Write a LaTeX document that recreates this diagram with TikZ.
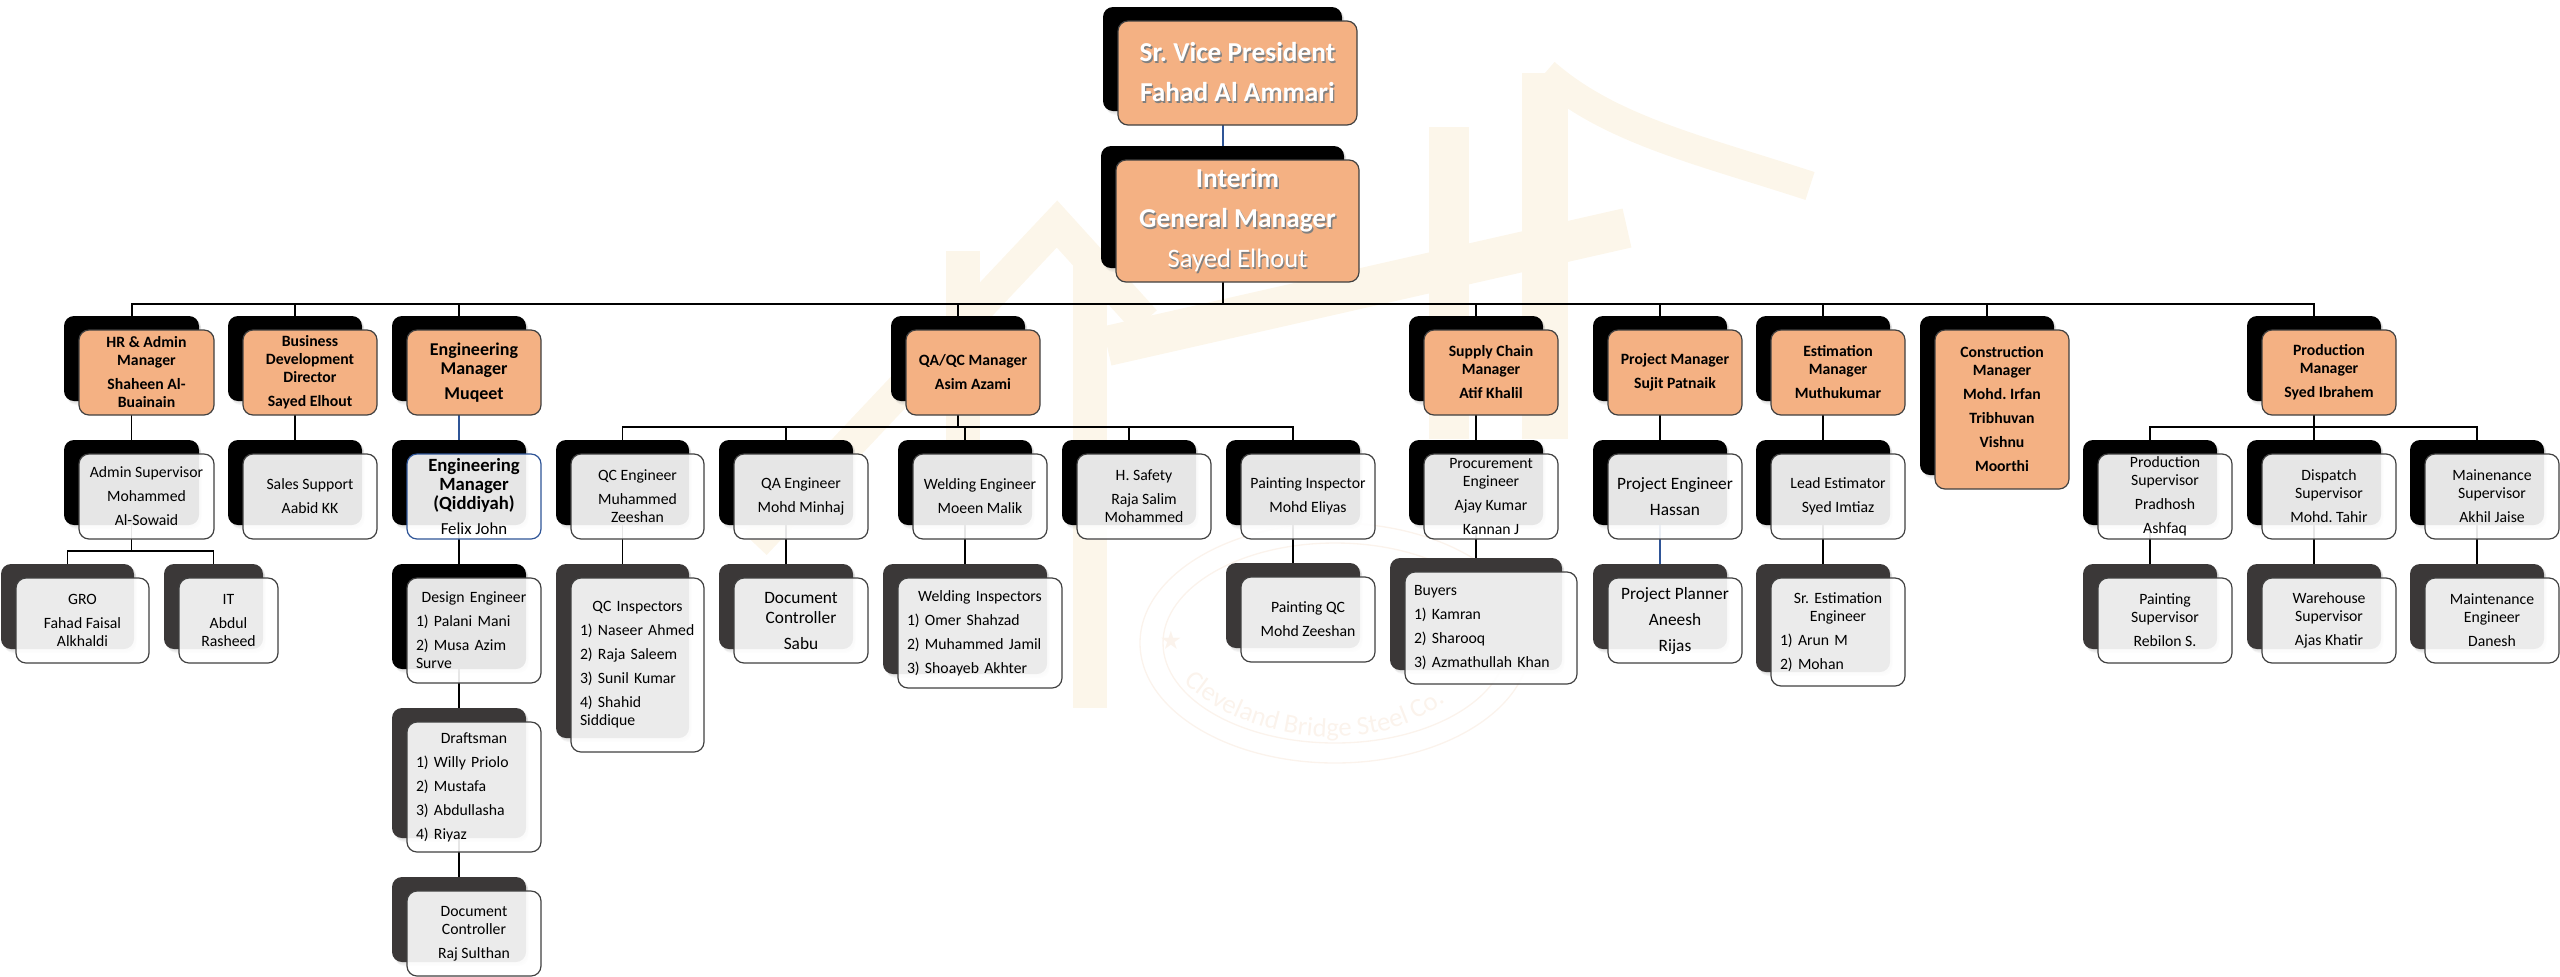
\documentclass[tikz,border=0pt]{standalone}
\usepackage{fontspec}
\setmainfont{Carlito}
\newfontfamily\symbolfont{DejaVu Sans}
\usetikzlibrary{backgrounds,shadows,decorations.text}

\definecolor{headfill}{HTML}{F4B183}
\definecolor{darkback}{HTML}{3B3838}
\definecolor{boxline}{HTML}{404040}
\definecolor{bluelink}{HTML}{2F5597}
\definecolor{markcream}{HTML}{FCF6EA}
\definecolor{stampline}{HTML}{FBF3EC}

\tikzset{
  blackback/.style={fill=black},
  greyback/.style={fill=darkback},
  backbox/.style={rounded corners=7.5pt,inner sep=0pt,
    drop shadow={shadow xshift=1.5pt,shadow yshift=-1pt,opacity=.10},
    drop shadow={shadow xshift=1.5pt,shadow yshift=-2pt,opacity=.10},
    drop shadow={shadow xshift=2pt,shadow yshift=-3pt,opacity=.08}},
  frontbox/.style={draw=boxline,line width=.9pt,rounded corners=7.5pt,inner sep=0pt,align=center},
  staffbox/.style={frontbox,fill=white,fill opacity=.9,text opacity=1,
    font=\fontsize{11.8}{13.5}\selectfont},
  listbox/.style={staffbox,align=left,inner xsep=6.75pt,text width=\boxw pt-13.5pt},
  headbox/.style={frontbox,fill=headfill,font=\fontsize{11.8}{13.5}\selectfont\bfseries},
  topbox/.style={frontbox,fill=headfill,text=white,font=\fontsize{20.5}{24.5}\selectfont\bfseries},
  bigtext/.style={font=\fontsize{13}{15}\selectfont},
  bighead/.style={font=\fontsize{13.5}{14.5}\selectfont\bfseries},
  qidtext/.style={font=\fontsize{14}{14.2}\selectfont},
  conn/.style={line width=1.05pt},
  busline/.style={line width=1.5pt},
  bluelk/.style={line width=1.5pt,draw=bluelink},
  markline/.style={draw=markcream,line cap=butt},
  stampring/.style={draw=stampline,line width=1pt}
}

% name back at -15,-14 from the front box
\newcommand{\orgbox}[8][staffbox]{%
  \pgfmathsetmacro\boxw{(#6-#4)*0.75}%
  \pgfmathsetmacro\boxh{(#7-#5)*0.75}%
  \node[backbox,#3,minimum width=\boxw pt,minimum height=\boxh pt] (#2back) at ({(#4+#6)/2-15},{(#5+#7)/2-14}) {};
  \node[#1,minimum width=\boxw pt,minimum height=\boxh pt] (#2) at ({(#4+#6)/2},{(#5+#7)/2}) {#8};
}
\newcommand{\para}{\\[4.5pt]}
\newcommand{\listhead}[1]{\hfill #1\hfill\null}
\newcommand{\topline}[1]{\makebox[0pt][l]{\raisebox{-1pt}{\hspace{1pt}\textcolor{black!50}{#1}}}#1}

\begin{document}
\frenchspacing
\begin{tikzpicture}[x=0.75pt,y=0.75pt,yscale=-1,xscale=1]
\useasboundingbox (0,0) rectangle (2560,976);

%Top boxes
\orgbox[topbox]{svp}{blackback}{1118}{21}{1357}{125}{\topline{Sr. Vice President}\\[5.5pt]\topline{Fahad Al Ammari}}
\orgbox[topbox]{gm}{blackback}{1116}{160}{1359}{282}{\topline{Interim}\\[5.5pt]\topline{General Manager}\\[5.5pt]\topline{\fontsize{20}{24.5}\selectfont\mdseries Sayed Elhout}}

%Managers
\orgbox[headbox]{hr}{blackback}{79}{330}{214}{415}{HR \& Admin\\Manager\para Shaheen Al-\\Buainain}
\orgbox[headbox]{biz}{blackback}{243}{330}{377}{415}{Business\\Development\\Director\para Sayed Elhout}
\orgbox[headbox,bighead]{eng}{blackback}{407}{330}{541}{415}{Engineering\\Manager\para Muqeet}
\orgbox[headbox]{qa}{blackback}{906}{330}{1040}{415}{QA/QC Manager\para Asim Azami}
\orgbox[headbox]{supply}{blackback}{1424}{330}{1558}{415}{Supply Chain\\Manager\para Atif Khalil}
\orgbox[headbox]{proj}{blackback}{1608}{330}{1742}{415}{Project Manager\para Sujit Patnaik}
\orgbox[headbox]{est}{blackback}{1771}{330}{1905}{415}{Estimation\\Manager\para Muthukumar}
\orgbox[headbox]{cons}{blackback}{1935}{330}{2069}{489}{Construction\\Manager\para Mohd. Irfan\para Tribhuvan\para Vishnu\para Moorthi}
\orgbox[headbox]{prod}{blackback}{2262}{330}{2396}{415}{Production\\Manager\para Syed Ibrahem}

%Second row
\orgbox{adm}{blackback}{79}{454}{214}{539}{Admin Supervisor\para Mohammed\para Al-Sowaid}
\orgbox{sales}{blackback}{243}{454}{377}{539}{Sales Support\para Aabid KK}
\orgbox[staffbox,draw=bluelink,qidtext]{qid}{blackback}{407}{454}{541}{539}{\textbf{Engineering}\\\textbf{Manager}\\\textbf{(Qiddiyah)}\para{\fontsize{12.6}{14.2}\selectfont Felix John}}
\orgbox{qceng}{blackback}{571}{454}{704}{539}{QC Engineer\para Muhammed\\Zeeshan}
\orgbox{qaeng}{blackback}{734}{454}{868}{539}{QA Engineer\para Mohd Minhaj}
\orgbox{weld}{blackback}{913}{454}{1047}{539}{Welding Engineer\para Moeen Malik}
\orgbox{safety}{blackback}{1077}{454}{1211}{539}{H. Safety\para Raja Salim\\Mohammed}
\orgbox{paint}{blackback}{1241}{454}{1375}{539}{Painting Inspector\para Mohd Eliyas}
\orgbox{proc}{blackback}{1424}{454}{1558}{539}{Procurement\\Engineer\para Ajay Kumar\para Kannan J}
\orgbox[staffbox,bigtext]{pe}{blackback}{1608}{454}{1742}{539}{Project Engineer\para Hassan}
\orgbox{lead}{blackback}{1771}{454}{1905}{539}{Lead Estimator\para Syed Imtiaz}
\orgbox{prs}{blackback}{2098}{454}{2232}{539}{Production\\Supervisor\para Pradhosh\para Ashfaq}
\orgbox{disp}{blackback}{2262}{454}{2396}{539}{Dispatch\\Supervisor\para Mohd. Tahir}
\orgbox{maint}{blackback}{2425}{454}{2559}{539}{Mainenance\\Supervisor\para Akhil Jaise}

%Third row
\orgbox{gro}{greyback}{16}{578}{149}{663}{GRO\para Fahad Faisal\\Alkhaldi}
\orgbox{itb}{greyback}{179}{578}{278}{663}{IT\para Abdul\\Rasheed}
\orgbox[listbox]{design}{blackback}{407}{578}{541}{683}{\listhead{Design Engineer}\para 1) Palani Mani\para 2) Musa Azim\\Surve}
\orgbox[listbox]{draft}{greyback}{407}{722}{541}{852}{\listhead{Draftsman}\para 1) Willy Priolo\para 2) Mustafa\para 3) Abdullasha\para 4) Riyaz}
\orgbox{doc}{greyback}{407}{891}{541}{976}{Document\\Controller\para Raj Sulthan}
\orgbox[listbox]{qci}{greyback}{571}{578}{704}{752}{\listhead{QC Inspectors}\para 1) Naseer Ahmed\para 2) Raja Saleem\para 3) Sunil Kumar\para 4) Shahid\\Siddique}
\orgbox[staffbox,bigtext]{docq}{greyback}{734}{578}{868}{663}{Document\\Controller\para Sabu}
\orgbox[listbox]{wi}{greyback}{898}{578}{1062}{688}{\listhead{Welding Inspectors}\para 1) Omer Shahzad\para 2) Muhammed Jamil\para 3) Shoayeb Akhter}
\orgbox{pqc}{greyback}{1241}{577}{1375}{662}{Painting QC\para Mohd Zeeshan}
\orgbox[listbox]{buy}{greyback}{1405}{572}{1577}{684}{Buyers\para 1) Kamran\para 2) Sharooq\para 3) Azmathullah Khan}
\orgbox[staffbox,bigtext]{plan}{greyback}{1608}{578}{1742}{663}{Project Planner\para Aneesh\para Rijas}
\orgbox[listbox]{sr}{greyback}{1771}{578}{1905}{686}{\listhead{Sr. Estimation}\\\listhead{Engineer}\para 1) Arun M\para 2) Mohan}
\orgbox{ps}{greyback}{2098}{578}{2232}{663}{Painting\\Supervisor\para Rebilon S.}
\orgbox{wh}{greyback}{2262}{578}{2396}{663}{Warehouse\\Supervisor\para Ajas Khatir}
\orgbox{me}{greyback}{2425}{578}{2559}{663}{Maintenance\\Engineer\para Danesh}

\begin{scope}[on background layer]
%Watermark
\draw[markline,line width=26pt] (1090,251) -- (1090,708);
\draw[markline,line width=26pt] (963,251) -- (963,440);
\draw[markline,line width=24pt] (755,544) -- (1057,224) -- (1145,321);
\draw[markline,line width=30pt] (1107,346) -- (1627,228);
\draw[markline,line width=34pt] (1545,73) -- (1545,439);
\draw[markline,line width=30pt] (1449,127) -- (1449,439);
\draw[markline,line width=22pt] (1545,73) .. controls (1610,130) and (1700,150) .. (1810,186);
%Stamp
\draw[stampring] (1335,643) ellipse (195 and 120);
\draw[stampring] (1335,643) ellipse (172 and 100);
\path[decorate,decoration={text along path,text align=center,
  text={|\fontsize{20}{22}\selectfont\color{stampline}|Cleveland Bridge  Steel Co.}}]
  (1150,640) .. controls (1210,755) and (1420,775) .. (1480,660);
\node[text=stampline,font=\symbolfont\fontsize{19}{21}\selectfont] (stampstar) at (1171,640) {★};

%Straight Lines
\coordinate (gmbus) at (1222.5,304);
\coordinate (admbus) at (131.5,551);
\coordinate (qabus) at (958,427);
\coordinate (prodbus) at (2314,427);
\draw[bluelk] (svpback.south) -- (gmback.north);
\draw[busline] (gmback.south) -- (gmbus);
\foreach \n in {hr,biz,eng,qa,supply,proj,est,cons,prod}
  \draw[busline] (gmbus) -| (\n back.north);
\draw[conn] (hrback.south) -- (admback.north);
\draw[conn] (bizback.south) -- (salesback.north);
\draw[bluelk] (engback.south) -- (qidback.north);
\draw[conn] (admback.south) -- (admbus);
\foreach \n in {gro,itb}
  \draw[conn] (admbus) -| (\n back.north);
\draw[conn] (qidback.south) -- (designback.north);
\draw[conn] (designback.south) -- (draftback.north);
\draw[conn] (draftback.south) -- (docback.north);
\draw[conn] (qaback.south) -- (qabus);
\foreach \n in {qceng,qaeng,weld,safety,paint}
  \draw[conn] (qabus) -| (\n back.north);
\draw[conn] (qcengback.south) -- (qciback.north);
\draw[conn] (qaengback.south) -- (docqback.north);
\draw[conn] (weldback.south) -- (wiback.north);
\draw[conn] (paintback.south) -- (pqcback.north);
\draw[conn] (supplyback.south) -- (procback.north);
\draw[conn] (procback.south) -- (buyback.north);
\draw[conn] (projback.south) -- (peback.north);
\draw[bluelk] (peback.south) -- (planback.north);
\draw[conn] (estback.south) -- (leadback.north);
\draw[conn] (leadback.south) -- (srback.north);
\draw[conn] (prodback.south) -- (prodbus);
\foreach \n in {prs,disp,maint}
  \draw[conn] (prodbus) -| (\n back.north);
\draw[conn] (prsback.south) -- (psback.north);
\draw[conn] (dispback.south) -- (whback.north);
\draw[conn] (maintback.south) -- (meback.north);
\end{scope}
\end{tikzpicture}
\end{document}
